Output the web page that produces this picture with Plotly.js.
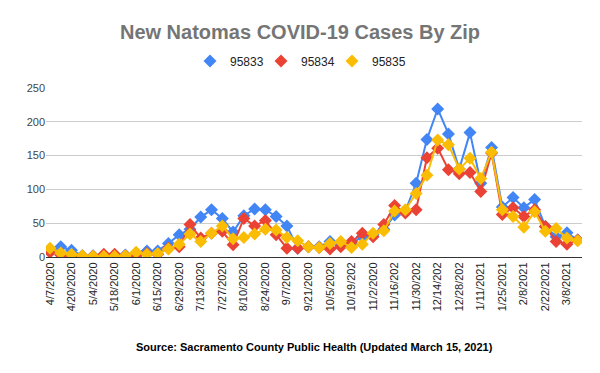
<!DOCTYPE html>
<html>
<head>
<meta charset="utf-8">
<script src="https://cdn.plot.ly/plotly-3.0.1.min.js"></script>
<style>html,body{margin:0;padding:0;background:#fff;}#chart{width:600px;height:373px;}</style>
</head>
<body>
<div id="chart"></div>
<script>
const dates = ["4/7/2020","4/13/2020","4/20/2020","4/27/2020","5/4/2020","5/11/2020","5/18/2020","5/25/2020","6/1/2020","6/8/2020","6/15/2020","6/22/2020","6/29/2020","7/6/2020","7/13/2020","7/20/2020","7/27/2020","8/3/2020","8/10/2020","8/17/2020","8/24/2020","8/31/2020","9/7/2020","9/14/2020","9/21/2020","9/28/2020","10/5/2020","10/12/2020","10/19/2020","10/26/2020","11/2/2020","11/9/2020","11/16/2020","11/23/2020","11/30/2020","12/7/2020","12/14/2020","12/21/2020","12/28/2020","1/4/2021","1/11/2021","1/18/2021","1/25/2021","2/1/2021","2/8/2021","2/15/2021","2/22/2021","3/1/2021","3/8/2021","3/15/2021"];
const zip95833 = [8,15,10,2,2,1,1,3,2,9,9,20,33,41,59,70,57,37,61,71,70,60,46,13,15,15,23,17,20,30,33,41,62,68,109,174,219,182,130,184,109,162,74,88,73,85,45,30,36,25];
const zip95834 = [7,3,2,1,1,4,4,2,2,5,4,13,15,48,28,35,38,18,57,46,54,33,13,13,15,14,12,15,23,35,30,48,76,65,70,147,161,129,123,125,97,154,63,73,60,70,45,23,19,25];
const zip95835 = [13,6,4,2,1,1,1,2,7,4,5,12,19,34,23,35,46,27,29,34,41,40,29,24,15,14,20,23,14,19,35,39,68,70,94,121,173,166,130,146,116,155,70,60,44,67,38,42,28,24];
const seriesNames = ["95833","95834","95835"];
const colors = ["#4285F4","#EA4335","#FBBC04"];
const yTicks = [0,50,100,150,200,250];

const tickVals = dates.filter((d,i)=>i%2===0);
const tickText = tickVals.map(d=>d.slice(0,9));

const data = [];
[zip95833, zip95834, zip95835].forEach((vals,k)=>{
  data.push({
    x: dates, y: vals, name: seriesNames[k], type:"scatter", mode:"lines+markers",
    legendgroup: seriesNames[k], showlegend:false,
    line:{color:colors[k], width:2},
    marker:{symbol:"diamond", size:10, color:colors[k]}
  });
});
// legend-only entries (diamond symbol without line, as in the reference)
seriesNames.forEach((n,k)=>{
  data.push({x:[null], y:[null], name:n, legendgroup:n, type:"scatter", mode:"markers",
    marker:{symbol:"diamond", size:10, color:colors[k]}, showlegend:true});
});
// blank spacer entry so the last legend label is not clipped
data.push({x:[null], y:[null], name:" ", type:"scatter", mode:"markers",
  marker:{symbol:"diamond", size:1, color:"rgba(0,0,0,0)"}, showlegend:true, hoverinfo:"skip"});

const layout = {
  width:600, height:373,
  margin:{l:46, r:18, t:88, b:116},
  paper_bgcolor:"#fff", plot_bgcolor:"#fff",
  font:{family:"Arial, Liberation Sans, sans-serif", size:11, color:"#222"},
  title:{text:"<b>New Natomas COVID-19 Cases By Zip</b>", x:0.5, xanchor:"center", y:0.913, yanchor:"middle",
    font:{family:"Arial, Liberation Sans, sans-serif", size:20, color:"#757575"}},
  showlegend:true,
  legend:{orientation:"h", x:0.2687, xanchor:"left", y:1.16, yanchor:"middle", font:{size:12, color:"#222"},
    bgcolor:"rgba(0,0,0,0)", itemwidth:30, entrywidth:26, entrywidthmode:"pixels"},
  xaxis:{type:"category", range:[-0.37, 49.4], tickmode:"array", tickvals:tickVals, ticktext:tickText,
    tickangle:-90, showgrid:false, zeroline:false, showline:true, linecolor:"#333", linewidth:1,
    ticks:"", tickfont:{size:11, color:"#222"}},
  yaxis:{range:[0,250], tickmode:"array", tickvals:yTicks, showgrid:true, gridcolor:"#cccccc", gridwidth:1,
    zeroline:false, showline:false, ticks:"", tickfont:{size:11, color:"#444"}},
  annotations:[{text:"<b>Source: Sacramento County Public Health (Updated March 15, 2021)</b>", xref:"paper", yref:"paper",
    x:0.5, y:-0.53, xanchor:"center", yanchor:"middle", showarrow:false, font:{size:11, color:"#000"}}]
};
Plotly.newPlot("chart", data, layout, {displayModeBar:false, staticPlot:true});
</script>
</body>
</html>
